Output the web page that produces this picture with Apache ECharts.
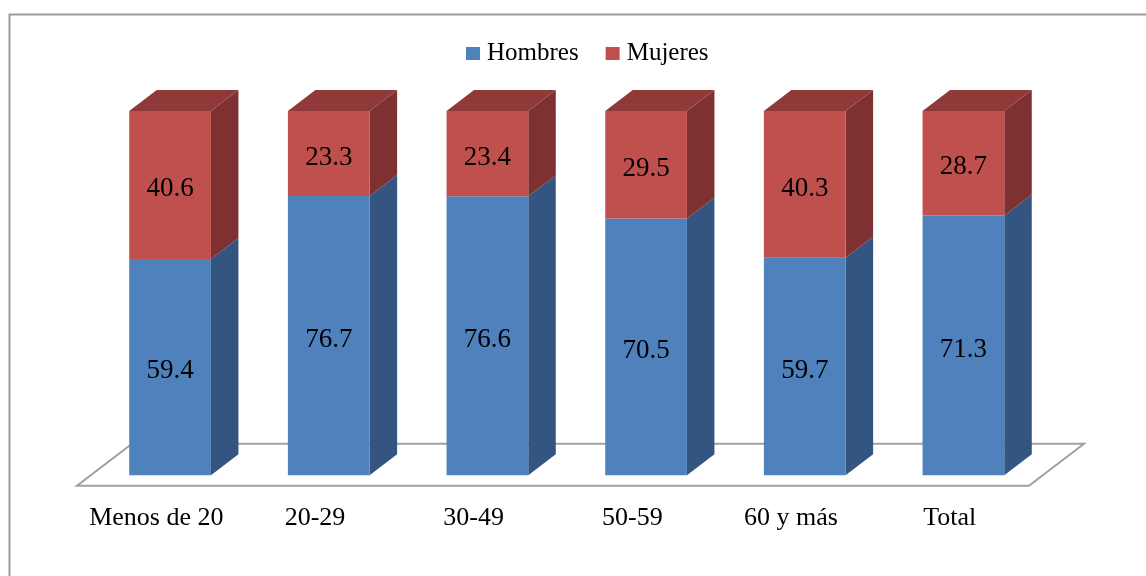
<!DOCTYPE html>
<html>
<head>
<meta charset="utf-8">
<script src="https://cdn.jsdelivr.net/npm/echarts@6/dist/echarts.min.js"></script>
<style>html,body{margin:0;padding:0;background:#fff}#c{width:1146px;height:576px}</style>
</head>
<body>
<div id="c"></div>
<script>
var categories = ['Menos de 20', '20-29', '30-49', '50-59', '60 y más', 'Total'];
var hombres = [59.4, 76.7, 76.6, 70.5, 59.7, 71.3];
var mujeres = [40.6, 23.3, 23.4, 29.5, 40.3, 28.7];

var FONT = '"Liberation Serif", "Times New Roman", serif';
var DX = 27.5, DY = 21;       // bar depth offset
var FX = 13.75, FY = 10.5;    // front of floor relative to bar front
var BAR_FRAC = 0.515;

var colors = {
  hombres: {front: '#4F81BD', side: '#34557F', top: '#3F6696'},
  mujeres: {front: '#C0504D', side: '#7E3130', top: '#8F3A38'}
};

function makeRender(seriesKey, baseArr, drawTop) {
  var c = colors[seriesKey];
  return function (params, api) {
    var i = api.value(0);
    var v = api.value(1);
    var base = baseArr ? baseArr[i] : 0;
    var p0 = api.coord([i, base]);
    var p1 = api.coord([i, base + v]);
    var w = api.size([1, 0])[0] * BAR_FRAC;
    var L = p0[0] - w / 2, R = p0[0] + w / 2;
    var yb = p0[1], yt = p1[1];
    var children = [
      {type: 'polygon', shape: {points: [[R, yb], [R + DX, yb - DY], [R + DX, yt - DY], [R, yt]]},
        style: {fill: c.side}},
      {type: 'rect', shape: {x: L, y: yt, width: w, height: yb - yt},
        style: {fill: c.front}}
    ];
    if (drawTop) {
      children.push({type: 'polygon', shape: {points: [[L, yt], [R, yt], [R + DX, yt - DY], [L + DX, yt - DY]]},
        style: {fill: c.top}});
    }
    children.push({type: 'text', style: {text: v.toFixed(1), x: (L + R) / 2, y: (yt + yb) / 2 + 4,
      align: 'center', verticalAlign: 'middle', font: '27px ' + FONT, fill: '#000'}});
    return {type: 'group', children: children};
  };
}

function renderFloor(params, api) {
  var band = api.size([1, 0])[0];
  var a = api.coord([0, 0]);
  var b = api.coord([categories.length - 1, 0]);
  var y = a[1] + FY;
  var xl = a[0] - band / 2 - FX, xr = b[0] + band / 2 - FX;
  var pts = [[xl, y], [xr, y], [xr + 4 * FX, y - 4 * FY], [xl + 4 * FX, y - 4 * FY]];
  return {type: 'polygon', shape: {points: pts},
    style: {fill: '#fff', stroke: '#a0a0a0', lineWidth: 2}};
}

var chart = echarts.init(document.getElementById('c'));
chart.setOption({
  animation: false,
  backgroundColor: '#fff',
  graphic: [{type: 'rect', shape: {x: 9.5, y: 14.5, width: 1300, height: 700},
    style: {fill: 'none', stroke: '#9a9a9a', lineWidth: 2}, z: 100, silent: true}],
  legend: {
    left: 461, top: 36,
    itemWidth: 14, itemHeight: 13, itemGap: 27,
    icon: 'rect',
    textStyle: {fontFamily: FONT, fontSize: 25, color: '#000', padding: [0, 0, 0, 2]},
    data: ['Hombres', 'Mujeres']
  },
  grid: {left: 90.75, right: 103.25, top: 111, bottom: 100.7},
  xAxis: {
    type: 'category', data: categories,
    axisLine: {show: false}, axisTick: {show: false},
    axisLabel: {fontFamily: FONT, fontSize: 26, color: '#000', margin: 30, padding: [0, 2 * FX, 0, 0], interval: 0}
  },
  yAxis: {type: 'value', min: 0, max: 100, show: false, splitLine: {show: false}},
  series: [
    {type: 'custom', name: 'floor', renderItem: renderFloor, data: [[0, 0]], z: 1, silent: true, clip: false,
      itemStyle: {color: '#a0a0a0'}},
    {type: 'custom', name: 'Hombres', renderItem: makeRender('hombres', null, false),
      itemStyle: {color: colors.hombres.front},
      data: hombres.map(function (v, i) { return [i, v]; }), z: 2, clip: false},
    {type: 'custom', name: 'Mujeres', renderItem: makeRender('mujeres', hombres, true),
      itemStyle: {color: colors.mujeres.front},
      data: mujeres.map(function (v, i) { return [i, v]; }), z: 3, clip: false}
  ]
});
</script>
</body>
</html>
